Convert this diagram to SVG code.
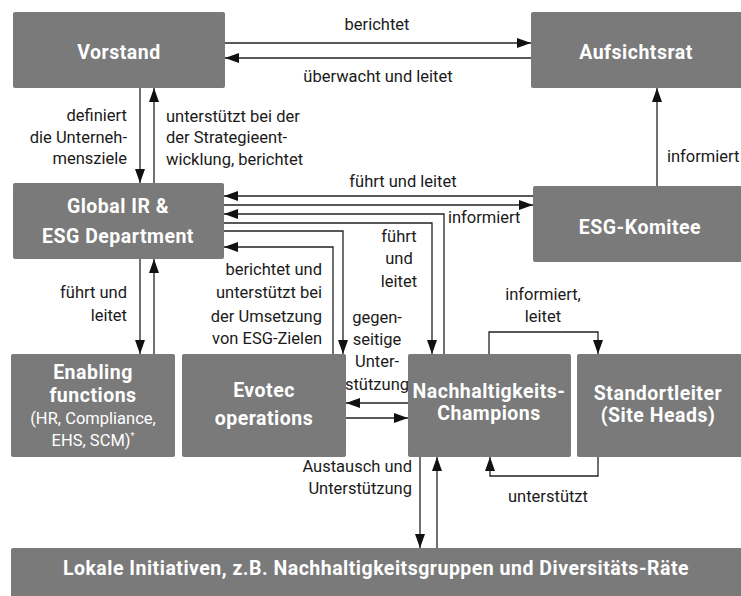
<svg xmlns="http://www.w3.org/2000/svg" width="741" height="596" viewBox="0 0 741 596">
<defs>
<style>
.box{fill:#7a7a7a}
.t{font-family:Roboto,"Liberation Sans",sans-serif;font-weight:700;font-size:19.5px;letter-spacing:0.5px;fill:#ffffff;text-anchor:middle}
.ts{font-family:Roboto,"Liberation Sans",sans-serif;font-weight:400;font-size:16.5px;fill:#ffffff;text-anchor:middle}
.l{font-family:Roboto,"Liberation Sans",sans-serif;font-size:16.5px;fill:#1a1a1a}
.m{text-anchor:middle}
.e{text-anchor:end}
.c{fill:none;stroke:#222222;stroke-width:1.3;marker-end:url(#ah)}
</style>
<marker id="ah" markerUnits="userSpaceOnUse" markerWidth="14" markerHeight="10" refX="14" refY="5" orient="auto" viewBox="0 0 14 10">
<path d="M0,0 L14,5 L0,10 z" fill="#111111"/>
</marker>
</defs>
<rect width="741" height="596" fill="#ffffff"/>

<g id="connectors">
<path class="c" d="M225,43 H531"/>
<path class="c" d="M531,58 H225"/>
<path class="c" d="M140,88 V183"/>
<path class="c" d="M154,183 V88"/>
<path class="c" d="M657,186 V88"/>
<path class="c" d="M533,196 H224"/>
<path class="c" d="M224,205 H533"/>
<path class="c" d="M444,354 V214 H224"/>
<path class="c" d="M224,223 H432 V354"/>
<path class="c" d="M224,231 H343 V354"/>
<path class="c" d="M333,354 V247 H224"/>
<path class="c" d="M140,259 V354"/>
<path class="c" d="M154,354 V259"/>
<path class="c" d="M408,403 H346"/>
<path class="c" d="M346,418 H408"/>
<path class="c" d="M489,354 V332 H598 V354"/>
<path class="c" d="M598,457 V476 H490 V457"/>
<path class="c" d="M420,457 V548"/>
<path class="c" d="M437,548 V457"/>
</g>

<g id="labels">
<text class="l m" x="377" y="30">berichtet</text>
<text class="l m" x="378" y="82">überwacht und leitet</text>
<text class="l e" x="127" y="121">definiert</text>
<text class="l e" x="127" y="143">die Unterneh-</text>
<text class="l e" x="127" y="164">mensziele</text>
<text class="l" x="166" y="122">unterstützt bei der</text>
<text class="l" x="166" y="143">der Strategieent-</text>
<text class="l" x="166" y="165">wicklung, berichtet</text>
<text class="l" x="667" y="162">informiert</text>
<text class="l m" x="403" y="187">führt und leitet</text>
<text class="l" x="448" y="223">informiert</text>
<text class="l m" x="399" y="242">führt</text>
<text class="l m" x="399" y="264">und</text>
<text class="l m" x="399" y="287">leitet</text>
<text class="l m" x="377" y="323">gegen-</text>
<text class="l m" x="377" y="345">seitige</text>
<text class="l m" x="377" y="367">Unter-</text>
<text class="l m" x="377" y="390">stützung</text>
<text class="l e" x="127" y="298">führt und</text>
<text class="l e" x="127" y="321">leitet</text>
<text class="l e" x="322" y="275">berichtet und</text>
<text class="l e" x="322" y="298">unterstützt bei</text>
<text class="l e" x="322" y="322">der Umsetzung</text>
<text class="l e" x="322" y="344">von ESG-Zielen</text>
<text class="l m" x="543" y="300">informiert,</text>
<text class="l m" x="543" y="322">leitet</text>
<text class="l m" x="548" y="502">unterstützt</text>
<text class="l e" x="412" y="472">Austausch und</text>
<text class="l e" x="412" y="494">Unterstützung</text>
</g>

<g id="vorstand">
<rect class="box" x="13" y="12" width="212" height="76" rx="2"/>
<text class="t" x="119" y="59">Vorstand</text>
</g>
<g id="aufsichtsrat">
<rect class="box" x="531" y="12" width="214" height="76" rx="2"/>
<text class="t" x="636" y="59">Aufsichtsrat</text>
</g>
<g id="global-ir">
<rect class="box" x="13" y="183" width="211" height="76" rx="2"/>
<text class="t" x="118" y="213">Global IR &amp;</text>
<text class="t" x="118" y="243">ESG Department</text>
</g>
<g id="esg-komitee">
<rect class="box" x="533" y="186" width="212" height="76" rx="2"/>
<text class="t" x="640" y="234">ESG-Komitee</text>
</g>
<g id="enabling">
<rect class="box" x="11" y="354" width="164" height="103" rx="2"/>
<text class="t" x="93" y="379">Enabling</text>
<text class="t" x="93" y="401.5">functions</text>
<text class="ts" x="93" y="424">(HR, Compliance,</text>
<text class="ts" x="93" y="446">EHS, SCM)<tspan font-size="9" dy="-7">*</tspan></text>
</g>
<g id="evotec">
<rect class="box" x="182" y="354" width="164" height="103" rx="2"/>
<text class="t" x="264" y="397">Evotec</text>
<text class="t" x="264" y="425">operations</text>
</g>
<g id="champions">
<rect class="box" x="408" y="354" width="163" height="103" rx="2"/>
<text class="t" x="489" y="397.5">Nachhaltigkeits-</text>
<text class="t" x="489" y="420">Champions</text>
</g>
<g id="standortleiter">
<rect class="box" x="577" y="354" width="168" height="103" rx="2"/>
<text class="t" x="658" y="399.5">Standortleiter</text>
<text class="t" x="658" y="422">(Site Heads)</text>
</g>
<g id="lokale">
<rect class="box" x="11" y="548" width="734" height="52" rx="2"/>
<text class="t" x="376" y="575">Lokale Initiativen, z.B. Nachhaltigkeitsgruppen und Diversitäts-Räte</text>
</g>
</svg>
